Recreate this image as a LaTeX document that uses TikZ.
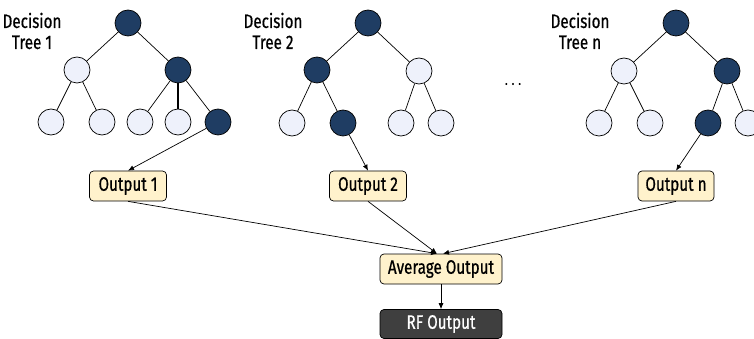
\documentclass[tikz,border=0pt]{standalone}
\usepackage{fontspec}
\setmainfont{Fira Sans}[FakeStretch=0.78,FakeBold=0.6]
\usetikzlibrary{arrows.meta}
\definecolor{darknode}{HTML}{1F3D63}
\definecolor{lightnode}{HTML}{EEF1FB}
\definecolor{boxfill}{HTML}{FFF2CC}
\definecolor{rfbox}{HTML}{3F3F3F}
\begin{document}
\begin{tikzpicture}[x=1pt,y=-1pt,
  dk/.style={circle,draw=black,line width=0.7pt,fill=darknode,minimum size=26pt,inner sep=0pt},
  lt/.style={circle,draw=black,line width=0.7pt,fill=lightnode,minimum size=26pt,inner sep=0pt},
  edge/.style={draw=black,line width=0.7pt},
  thickedge/.style={draw=black,line width=1.6pt},
  outbox/.style={draw=black,line width=0.7pt,fill=boxfill,rounded corners=4pt,minimum height=30pt,inner xsep=6pt,font=\fontsize{19.5}{22}\selectfont},
  rfstyle/.style={draw=black,line width=0.7pt,fill=rfbox,text=white,rounded corners=4pt,minimum height=29pt,minimum width=122pt,font=\fontsize{19.5}{22}\selectfont},
  lbl/.style={align=center,font=\fontsize{19.5}{21}\selectfont,inner sep=0pt},
  arr/.style={draw=black,line width=0.7pt,-{Latex[length=6pt,width=5pt]}}
]
\useasboundingbox (0,0) rectangle (754,339);
% Tree 1
\node[lbl] (l1) at (32,31) {Decision\\Tree 1};
\node[dk] (a0) at (128,23) {};
\node[lt] (a1) at (77,70) {};
\node[dk] (a2) at (178,70) {};
\node[lt] (a3) at (51,122) {};
\node[lt] (a4) at (102,122) {};
\node[lt] (a5) at (140,122) {};
\node[lt] (a6) at (178,122) {};
\node[dk] (a7) at (218,122) {};
\draw[edge] (a0) -- (a1); \draw[edge] (a0) -- (a2);
\draw[edge] (a1) -- (a3); \draw[edge] (a1) -- (a4);
\draw[edge] (a2) -- (a5); \draw[thickedge] (a2) -- (a6); \draw[edge] (a2) -- (a7);
% Tree 2
\node[lbl] (l2) at (273,31) {Decision\\Tree 2};
\node[dk] (b0) at (368,23) {};
\node[dk] (b1) at (317,70) {};
\node[lt] (b2) at (419,71) {};
\node[lt] (b3) at (292,123) {};
\node[dk] (b4) at (343,123) {};
\node[lt] (b5) at (401,123) {};
\node[lt] (b6) at (441,123) {};
\draw[edge] (b0) -- (b1); \draw[edge] (b0) -- (b2);
\draw[edge] (b1) -- (b3); \draw[edge] (b1) -- (b4);
\draw[edge] (b2) -- (b5); \draw[edge] (b2) -- (b6);
% dots
\node[font=\fontsize{14}{16}\selectfont] (dots) at (513,84) {.\hspace{4pt}.\hspace{4pt}.};
% Tree n
\node[lbl] (l3) at (580,31) {Decision\\Tree n};
\node[dk] (c0) at (676,23) {};
\node[lt] (c1) at (624,71) {};
\node[dk] (c2) at (727,71) {};
\node[lt] (c3) at (599,123) {};
\node[lt] (c4) at (650,123) {};
\node[dk] (c5) at (708,123) {};
\node[lt] (c6) at (748,123) {};
\draw[edge] (c0) -- (c1); \draw[edge] (c0) -- (c2);
\draw[edge] (c1) -- (c3); \draw[edge] (c1) -- (c4);
\draw[edge] (c2) -- (c5); \draw[edge] (c2) -- (c6);
% outputs
\node[outbox,minimum width=77pt] (o1) at (128,186) {Output 1};
\node[outbox,minimum width=77pt] (o2) at (368,186) {Output 2};
\node[outbox,minimum width=76pt] (on) at (676,186) {Output n};
\node[outbox,minimum width=122pt] (avg) at (441,269) {Average Output};
\node[rfstyle] (rf) at (441,324) {RF Output};
\draw[arr] (a7) -- (o1.north);
\draw[arr] (b4) -- (o2.north);
\draw[arr] (c5) -- (on.north);
\coordinate (avgl) at ([xshift=-4pt]avg.north);
\coordinate (avgr) at ([xshift=2pt]avg.north);
\draw[arr] (o1.south) -- (avgl);
\draw[arr] (o2.south) -- (avgl);
\draw[arr] (on.south) -- (avgr);
\draw[arr] (avg.south) -- (rf.north);
\end{tikzpicture}
\end{document}
